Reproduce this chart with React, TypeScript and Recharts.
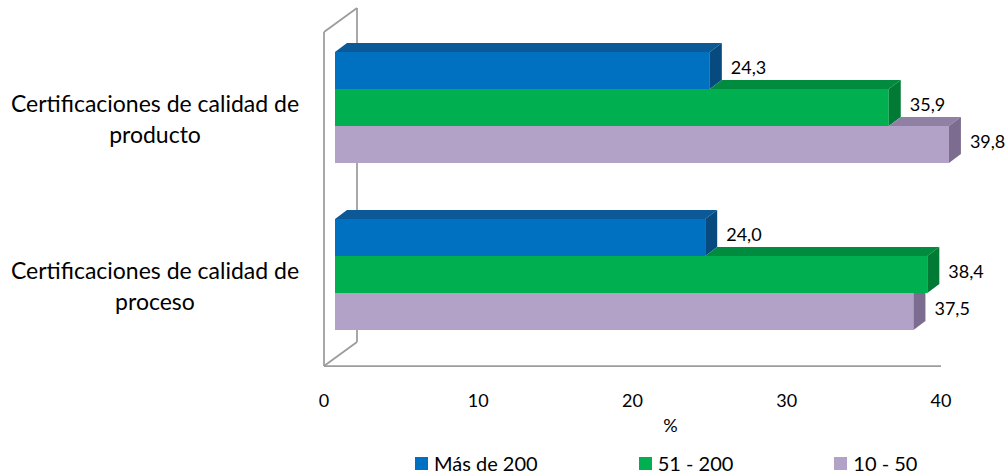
import React from "react";
import {
  Bar,
  BarChart,
  Customized,
  LabelList,
  Legend,
  XAxis,
  YAxis,
} from "recharts";

const CATEGORIES = [
  "Certificaciones de calidad de producto",
  "Certificaciones de calidad de proceso",
];
const MAS_DE_200 = [24.3, 24.0];
const DE_51_A_200 = [35.9, 38.4];
const DE_10_A_50 = [39.8, 37.5];
const SERIES_NAMES = ["Más de 200", "51 - 200", "10 - 50"];
const X_TICKS = [0, 10, 20, 30, 40];

const SERIES_KEYS = ["mas200", "de51", "de10"];

const rows = CATEGORIES.map((category, i) => ({
  category,
  mas200: MAS_DE_200[i],
  de51: DE_51_A_200[i],
  de10: DE_10_A_50[i],
}));

// front / top / side colours of each prism
const FACES = [
  { front: "#0070C0", top: "#0B5A97", side: "#064A80" },
  { front: "#00B050", top: "#008B3E", side: "#007A35" },
  { front: "#B2A2C7", top: "#8F80A4", side: "#7C6D90" },
];

const WIDTH = 1008;
const HEIGHT = 475;
const MARGIN = { top: 32, right: 67, bottom: 9, left: 0 };
const Y_AXIS_WIDTH = 324;
const X_AXIS_HEIGHT = 60;
const LEGEND_HEIGHT = 40;

// 3D projection: bars sit a little behind the front plane, walls run deeper
const FRONT_DX = 11;
const FRONT_DY = 8;
const BAR_DX = 12;
const BAR_DY = 9;
const WALL_DX = 33;
const WALL_DY = 24;

const WALL_COLOR = "#9C9C9C";
const FONT = "Lato, 'Open Sans', sans-serif";

const fmt = (v: number) => v.toFixed(1).replace(".", ",");

function wrapLabel(text: string, maxChars = 30): string[] {
  const lines: string[] = [];
  let current = "";
  for (const word of text.split(" ")) {
    const next = current ? `${current} ${word}` : word;
    if (next.length > maxChars && current) {
      lines.push(current);
      current = word;
    } else {
      current = next;
    }
  }
  if (current) lines.push(current);
  return lines;
}

type PrismProps = {
  x: number;
  y: number;
  width: number;
  height: number;
  payload: Record<string, number | string>;
  series: number;
};

function Prism({ x, y, width, height, payload, series }: PrismProps) {
  const face = FACES[series];
  const value = Number(payload[SERIES_KEYS[series]]);
  const fx = x + FRONT_DX;
  const top = y - FRONT_DY;
  const bottom = top + height;
  const xe = fx + width;

  // the bar stacked above hides part of this one's top and side faces
  let topStart: number | null = fx;
  let sideClipped = false;
  if (series > 0) {
    const upper = Number(payload[SERIES_KEYS[series - 1]]);
    const xu = fx + (width * upper) / value;
    if (xu < xe) topStart = xu;
    else {
      topStart = null;
      sideClipped = true;
    }
  }

  const pts = (p: number[][]) => p.map((q) => q.join(",")).join(" ");

  return (
    <g>
      <rect x={fx} y={top} width={width} height={height} fill={face.front} />
      {topStart !== null && (
        <polygon
          points={pts([
            [topStart, top],
            [topStart + BAR_DX, top - BAR_DY],
            [xe + BAR_DX, top - BAR_DY],
            [xe, top],
          ])}
          fill={face.top}
        />
      )}
      <polygon
        points={pts(
          sideClipped
            ? [
                [xe, top],
                [xe + BAR_DX, top],
                [xe + BAR_DX, bottom - BAR_DY],
                [xe, bottom],
              ]
            : [
                [xe, top],
                [xe + BAR_DX, top - BAR_DY],
                [xe + BAR_DX, bottom - BAR_DY],
                [xe, bottom],
              ]
        )}
        fill={face.side}
      />
    </g>
  );
}

function ValueLabel(props: any) {
  const { x, y, width, height, value } = props;
  return (
    <text
      x={x + width + FRONT_DX + BAR_DX + 9}
      y={y + height / 2 - FRONT_DY - 3 + 6.5}
      fontSize={18}
      fontFamily={FONT}
      fill="#000"
    >
      {fmt(Number(value))}
    </text>
  );
}

function CategoryTick({ y, payload }: any) {
  const lines = wrapLabel(String(payload.value));
  return (
    <text textAnchor="middle" fontSize={23} fontFamily={FONT} fill="#000">
      {lines.map((line, i) => (
        <tspan key={i} x={155} y={y - 3.5 + i * 31}>
          {line}
        </tspan>
      ))}
    </text>
  );
}

function Walls() {
  const left = MARGIN.left + Y_AXIS_WIDTH;
  const top = MARGIN.top;
  const bottom = HEIGHT - MARGIN.bottom - LEGEND_HEIGHT - X_AXIS_HEIGHT;
  const backX = left + WALL_DX;
  return (
    <g stroke={WALL_COLOR} strokeWidth={1.75} fill="none">
      <line x1={backX} y1={top - WALL_DY} x2={backX} y2={bottom - WALL_DY} />
      <line x1={left} y1={top} x2={backX} y2={top - WALL_DY} />
      <line x1={left} y1={bottom} x2={backX} y2={bottom - WALL_DY} />
    </g>
  );
}

// series order top-to-bottom, as the bars are stacked in each group
function LegendContent() {
  return (
    <div
      style={{
        display: "flex",
        alignItems: "center",
        height: LEGEND_HEIGHT,
        paddingLeft: 415,
        gap: 101,
        fontFamily: FONT,
        fontSize: 20,
        color: "#000",
      }}
    >
      {SERIES_NAMES.map((name, i) => (
        <div key={name} style={{ display: "flex", alignItems: "center" }}>
          <span
            style={{
              display: "inline-block",
              width: 13,
              height: 13,
              background: FACES[i].front,
              marginRight: 6,
            }}
          />
          <span>{name}</span>
        </div>
      ))}
    </div>
  );
}

export default function App() {
  return (
    <div style={{ position: "absolute", left: 0, top: 0, background: "#fff" }}>
      <BarChart
        width={WIDTH}
        height={HEIGHT}
        data={rows}
        layout="vertical"
        margin={MARGIN}
        barSize={37}
        barGap={0}
      >
        <Customized component={Walls} />
        <XAxis
          type="number"
          domain={[0, 40]}
          ticks={X_TICKS}
          height={X_AXIS_HEIGHT}
          axisLine={{ stroke: WALL_COLOR, strokeWidth: 1.75 }}
          tickLine={false}
          tickSize={0}
          tickMargin={28}
          tick={{ fontSize: 18, fontFamily: FONT, fill: "#000" }}
          label={({ viewBox }: any) => (
            <text
              x={viewBox.x + viewBox.width / 2 + 38}
              y={viewBox.y + 66}
              textAnchor="middle"
              fontSize={18}
              fontFamily={FONT}
              fill="#000"
            >
              %
            </text>
          )}
        />
        <YAxis
          type="category"
          dataKey="category"
          width={Y_AXIS_WIDTH}
          axisLine={{ stroke: WALL_COLOR, strokeWidth: 1.75 }}
          tickLine={false}
          tick={<CategoryTick />}
        />
        <Legend
          verticalAlign="bottom"
          height={LEGEND_HEIGHT}
          wrapperStyle={{ left: 0, width: WIDTH, top: 443, bottom: "auto" }}
          content={<LegendContent />}
        />
        {SERIES_KEYS.map((key, i) => (
          <Bar
            key={key}
            dataKey={key}
            name={SERIES_NAMES[i]}
            fill={FACES[i].front}
            isAnimationActive={false}
            shape={(p: any) => <Prism {...p} series={i} />}
          >
            <LabelList dataKey={key} content={<ValueLabel />} />
          </Bar>
        ))}
      </BarChart>
    </div>
  );
}
